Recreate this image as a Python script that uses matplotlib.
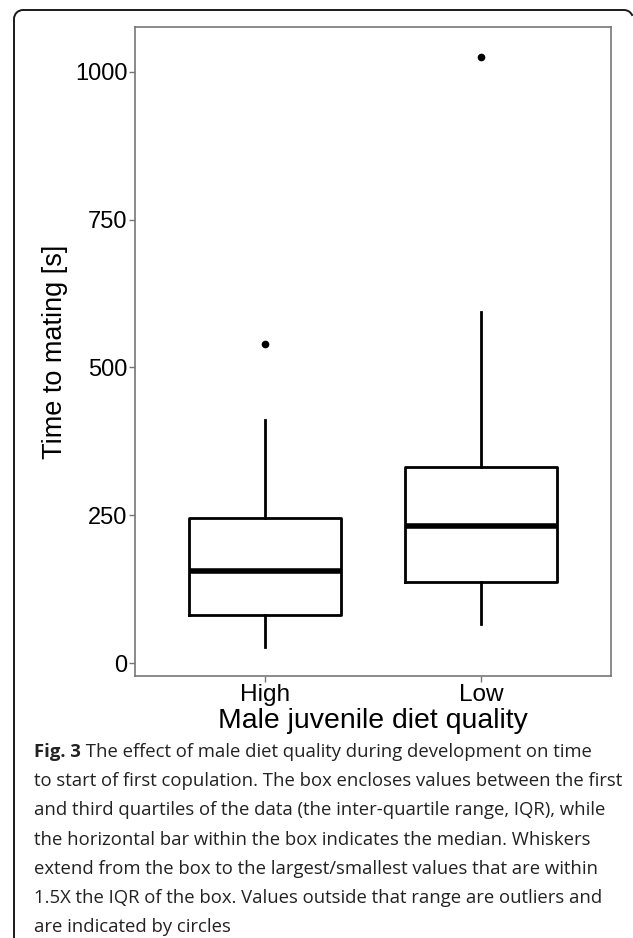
import matplotlib
matplotlib.use("Agg")
import matplotlib.pyplot as plt
from matplotlib.patches import Arc

# ---- data ----
categories = ["High", "Low"]
whisker_low = [28, 66]
q1 = [82, 137]
medians = [155, 231]
q3 = [245, 331]
whisker_high = [411, 593]
outliers = [[540], [1026]]
y_ticks = [0, 250, 500, 750, 1000]
x_label = "Male juvenile diet quality"
y_label = "Time to mating [s]"
caption_bold = "Fig. 3"
caption_lines = [
    " The effect of male diet quality during development on time",
    "to start of first copulation. The box encloses values between the first",
    "and third quartiles of the data (the inter-quartile range, IQR), while",
    "the horizontal bar within the box indicates the median. Whiskers",
    "extend from the box to the largest/smallest values that are within",
    "1.5X the IQR of the box. Values outside that range are outliers and",
    "are indicated by circles",
]

W, H = 633, 938
fig = plt.figure(figsize=(W / 100, H / 100), dpi=100)

# outer frame: left edge, top edge and rounded top corners
frame_ax = fig.add_axes([0, 0, 1, 1])
frame_ax.set_xlim(0, W)
frame_ax.set_ylim(H, 0)
frame_ax.axis("off")
r = 9
fx0, fy0, fx1 = 14, 10, 633
fc, flw = "#1a1a1a", 1.4
frame_ax.plot([fx0, fx0], [fy0 + r, H + 5], color=fc, lw=flw, clip_on=False,
              solid_capstyle="butt")
frame_ax.plot([fx0 + r, fx1 - r], [fy0, fy0], color=fc, lw=flw, solid_capstyle="butt")
frame_ax.add_patch(Arc((fx0 + r, fy0 + r), 2 * r, 2 * r, theta1=180, theta2=270,
                       color=fc, lw=flw))
frame_ax.add_patch(Arc((fx1 - r, fy0 + r), 2 * r, 2 * r, theta1=270, theta2=340,
                       color=fc, lw=flw))

# main plot axes
left, right, top, bottom = 135, 611, 27, 676
ax = fig.add_axes([left / W, 1 - bottom / H, (right - left) / W, (bottom - top) / H])

stats = []
for i, c in enumerate(categories):
    stats.append(dict(label=c, whislo=whisker_low[i], q1=q1[i], med=medians[i],
                      q3=q3[i], whishi=whisker_high[i], fliers=outliers[i]))

ax.bxp(stats, positions=[1, 2], widths=0.70, showcaps=False,
       boxprops=dict(color="black", lw=2.0),
       whiskerprops=dict(color="black", lw=2.0),
       medianprops=dict(color="black", lw=4.0, solid_capstyle="butt"),
       flierprops=dict(marker="o", markersize=4.5, markerfacecolor="black",
                       markeredgecolor="black"))

lo = min(whisker_low)
hi = max(max(o) for o in outliers)
pad = 0.05 * (hi - lo)
ax.set_ylim(lo - pad, hi + pad)
ax.set_xlim(0.4, 2.6)
ax.set_yticks(y_ticks)
ax.set_yticklabels([str(t) for t in y_ticks])
ax.set_xticks([1, 2])
ax.set_xticklabels(categories)

fam = ["Liberation Sans", "DejaVu Sans"]
for s in ax.spines.values():
    s.set_color("#777777")
    s.set_linewidth(1.2)
ax.tick_params(axis="both", color="#777777", length=4, width=1.0,
               labelcolor="black", pad=1.5)
ax.tick_params(axis="y", labelsize=17)
ax.tick_params(axis="x", labelsize=17.6, pad=2)
for lab in ax.get_xticklabels() + ax.get_yticklabels():
    lab.set_fontfamily(fam)
ax.set_xlabel(x_label, fontsize=20.4, family=fam, labelpad=1)
ax.set_ylabel(y_label, fontsize=19.5, family=fam, labelpad=5)

# caption
cfam = ["Open Sans", "DejaVu Sans"]
csize = 13.3
x0, y0, dy = 34, 752, 29.2
t = frame_ax.text(x0, y0, caption_bold, fontsize=csize, fontweight="bold",
                  family=cfam, color="#222222", va="center", ha="left")
fig.canvas.draw()
bb = t.get_window_extent(renderer=fig.canvas.get_renderer())
frame_ax.text(x0 + bb.width, y0, caption_lines[0], fontsize=csize, family=cfam,
              color="#222222", va="center", ha="left")
for k, line in enumerate(caption_lines[1:], start=1):
    frame_ax.text(x0, y0 + k * dy, line, fontsize=csize, family=cfam,
                  color="#222222", va="center", ha="left")

fig.savefig("out.png", dpi=100, facecolor="white")
